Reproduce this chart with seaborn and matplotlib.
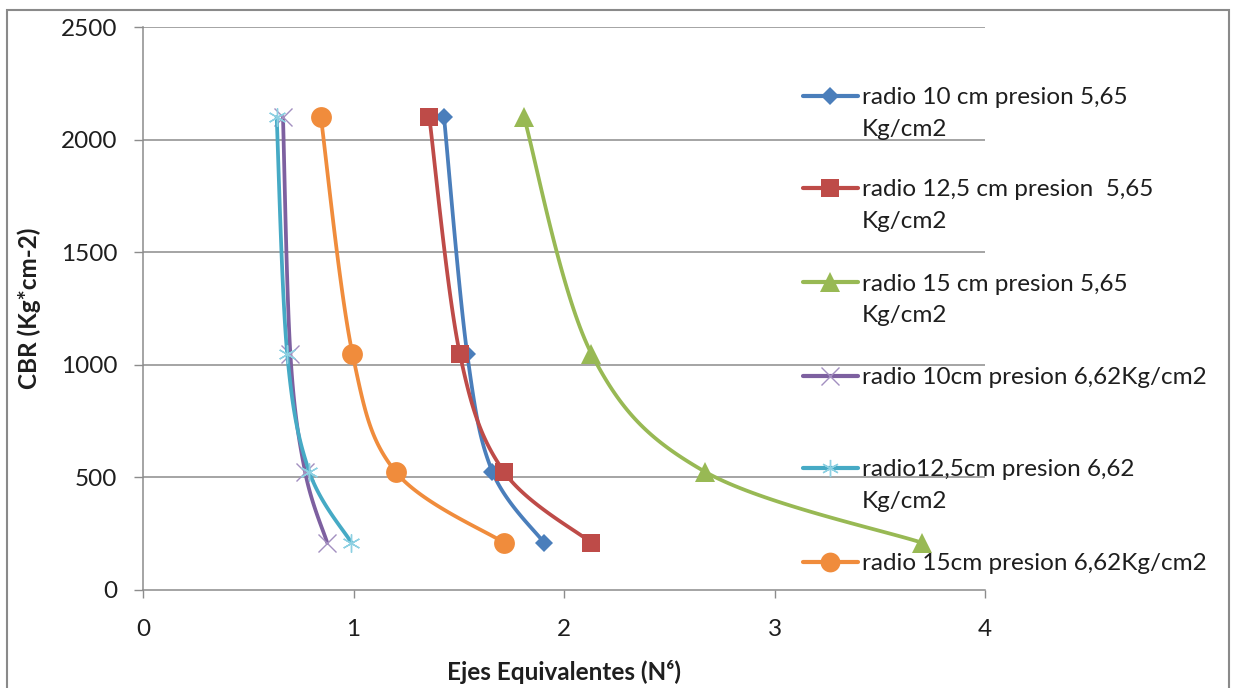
import numpy as np
import matplotlib
matplotlib.use("Agg")
import matplotlib.pyplot as plt
import seaborn as sns
from matplotlib.lines import Line2D
from matplotlib.patches import Rectangle

# CBR levels shared by every series (Kg*cm-2)
cbr = [2100, 1050, 525, 210]

# Equivalent axles (N^6) for each wheel radius / tyre pressure
ejes_r10_565 = [1.43, 1.54, 1.66, 1.905]
ejes_r125_565 = [1.36, 1.505, 1.715, 2.13]
ejes_r15_565 = [1.81, 2.13, 2.67, 3.70]
ejes_r10_662 = [0.665, 0.70, 0.77, 0.875]
ejes_r125_662 = [0.635, 0.685, 0.79, 0.99]
ejes_r15_662 = [0.845, 0.995, 1.20, 1.715]

series_labels = [
    ["radio 10 cm presion 5,65", "Kg/cm2"],
    ["radio 12,5 cm presion  5,65", "Kg/cm2"],
    ["radio 15 cm presion 5,65", "Kg/cm2"],
    ["radio 10cm presion 6,62Kg/cm2"],
    ["radio12,5cm presion 6,62", "Kg/cm2"],
    ["radio 15cm presion 6,62Kg/cm2"],
]
x_ticks = [0, 1, 2, 3, 4]
y_ticks = [0, 500, 1000, 1500, 2000, 2500]

series_x = [ejes_r10_565, ejes_r125_565, ejes_r15_565,
            ejes_r10_662, ejes_r125_662, ejes_r15_662]
colors = ["#4A7EBB", "#BE4B48", "#98B954", "#7D60A0", "#46AAC5", "#F08C3C"]
markers = ["D", "s", "^", "x", (6, 2, 0), "o"]
msizes = [9.5, 13.5, 14.5, 13, 13, 15]
mcolors = ["#4A7EBB", "#BE4B48", "#98B954", "#A38FC0", "#8DD0E2", "#F08C3C"]

sns.set_theme(style="white")
plt.rcParams["font.family"] = ["Lato", "DejaVu Sans"]
FS = 17.5
TXT = "#1e1e1e"

W, H = 1233, 688
fig = plt.figure(figsize=(W / 100, H / 100), dpi=100)
fig.patch.set_facecolor("white")

# chart frame
fig.add_artist(Rectangle((7 / W, -0.05), (1229 - 7) / W, (H - 10) / H + 0.05,
                         transform=fig.transFigure, fill=False,
                         edgecolor="#8a8a8a", lw=1.5, clip_on=False))

ax = fig.add_axes([143 / W, (H - 590) / H, (985 - 143) / W, (590 - 27) / H])
ax.set_xlim(0, 4)
ax.set_ylim(0, 2500)
ax.set_xticks(x_ticks)
ax.set_yticks(y_ticks)
ax.grid(False)
for y in y_ticks[1:]:
    ax.axhline(y, color="#8c8c8c", lw=1.1, zorder=0)
for side in ["top", "right"]:
    ax.spines[side].set_visible(False)
for side in ["left", "bottom"]:
    ax.spines[side].set_color("#8c8c8c")
    ax.spines[side].set_linewidth(1.1)
ax.tick_params(axis="y", length=6.5, width=1, color="#8c8c8c", pad=12,
               labelsize=FS, labelcolor=TXT, left=True)
ax.tick_params(axis="x", length=6, width=1, color="#8c8c8c", pad=15,
               labelsize=FS, labelcolor=TXT, bottom=True)


def smooth_curve(ax, xs, ys, n=40):
    """Bezier smoothing through the points, computed in display space."""
    pts = ax.transData.transform(np.column_stack([xs, ys]))
    P = np.vstack([pts[0], pts, pts[-1]])
    t = np.linspace(0, 1, n)[:, None]
    parts = []
    for i in range(1, len(P) - 2):
        p0, p1, p2, p3 = P[i - 1], P[i], P[i + 1], P[i + 2]
        c1 = p1 + (p2 - p0) / 6
        c2 = p2 - (p3 - p1) / 6
        seg = ((1 - t) ** 3) * p1 + 3 * ((1 - t) ** 2) * t * c1 \
            + 3 * (1 - t) * t ** 2 * c2 + t ** 3 * p2
        parts.append(seg if i == 1 else seg[1:])
    curve = ax.transData.inverted().transform(np.vstack(parts))
    return curve[:, 0], curve[:, 1]


for k, xs in enumerate(series_x):
    cx, cy = smooth_curve(ax, xs, cbr)
    sns.lineplot(x=cx, y=cy, sort=False, estimator=None, color=colors[k],
                 lw=2.7, ax=ax, zorder=3 + k)
    filled = markers[k] not in ("x",) and not isinstance(markers[k], tuple)
    ax.plot(xs, cbr, ls="none", marker=markers[k], ms=msizes[k],
            color=mcolors[k], mew=0 if filled else 1.0, zorder=3 + k,
            clip_on=False)

ax.set_xlabel("Ejes Equivalentes (N\u2076)", fontsize=FS, fontweight="bold",
              color=TXT, va="center")
ax.set_ylabel("CBR (Kg*cm-2)", fontsize=FS, fontweight="bold",
              color=TXT, va="center")
ax.xaxis.set_label_coords(0.5, (590 - 672) / (590 - 27))
ax.yaxis.set_label_coords((29 - 143) / (985 - 143), 0.5)

# legend, drawn entry by entry
entry_y = [96, 188, 282, 376, 468, 562]
for k, yy in enumerate(entry_y):
    yf = 1 - yy / H
    fig.add_artist(Line2D([803 / W, 858 / W], [yf, yf], transform=fig.transFigure,
                          color=colors[k], lw=3.0, solid_capstyle="round"))
    filled = markers[k] not in ("x",) and not isinstance(markers[k], tuple)
    fig.add_artist(Line2D([830 / W], [yf], transform=fig.transFigure, ls="none",
                          marker=markers[k], ms=msizes[k] * 0.95,
                          color=mcolors[k], mew=0 if filled else 1.0))
    for j, line in enumerate(series_labels[k]):
        fig.text(862 / W, 1 - (yy + 32 * j) / H, line, fontsize=FS, color=TXT,
                 va="center_baseline", ha="left")

fig.savefig("out.png", dpi=100, facecolor="white")
